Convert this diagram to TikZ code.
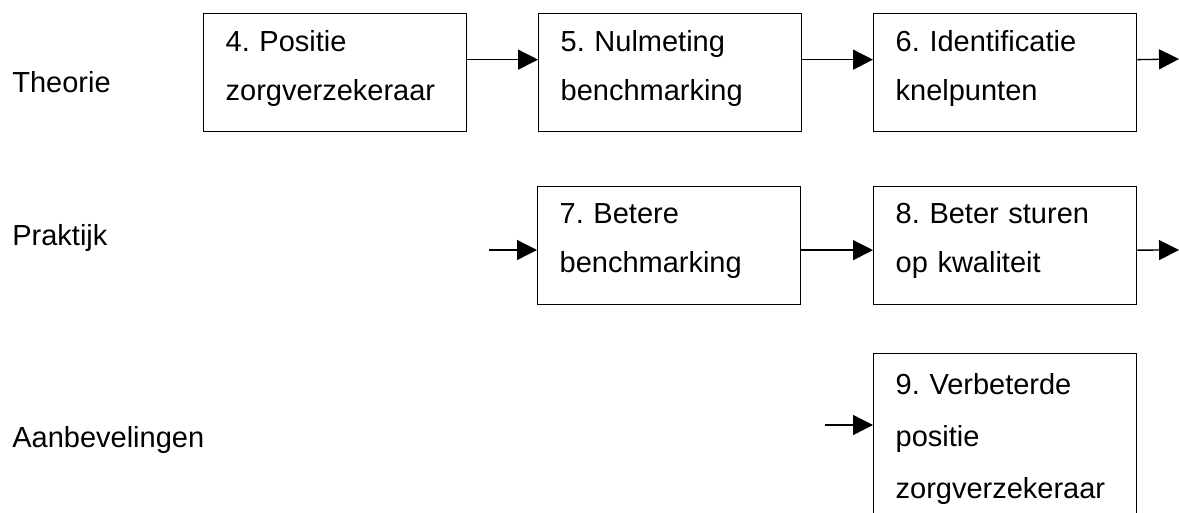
\documentclass[tikz,border=0pt]{standalone}
\usepackage{fontspec}
\setmainfont{Liberation Sans}
\usetikzlibrary{arrows.meta}
\frenchspacing

\begin{document}
\begin{tikzpicture}[x=0.02cm, y=-0.02cm,
  stap/.style={draw, line width=0.75pt, anchor=north west, align=left,
    text width=4.38cm, inner xsep=0.44cm, minimum height=2.36cm,
    font=\fontsize{16.5}{27.9}\selectfont},
  fase/.style={anchor=base west, inner sep=0pt, font=\fontsize{16.5}{20}\selectfont},
  pijl/.style={line width=0.75pt, -{Triangle[length=0.4cm,width=0.4cm]}}]

\clip (0,0) rectangle (1179,513);

% fasen
\node[fase] (theorie) at (12,93) {Theorie};
\node[fase] (praktijk) at (12,245) {Praktijk};
\node[fase] (aanbev) at (12,447) {Aanbevelingen};

% theorie
\node[stap] (s4) at (203,13) {4. Positie\\zorgverzekeraar\strut};
\node[stap] (s5) at (538,13) {5. Nulmeting\\benchmarking\strut};
\node[stap] (s6) at (873,13) {6. Identificatie\\knelpunten\strut};
\coordinate (uit1) at (1179,59);

\draw[pijl] ([yshift=0.26cm]s4.east) -- ([yshift=0.26cm]s5.west);
\draw[pijl] ([yshift=0.26cm]s5.east) -- ([yshift=0.26cm]s6.west);
\draw[pijl] ([yshift=0.26cm]s6.east) -- (uit1);

% praktijk
\coordinate (in2) at (489,250);
\node[stap] (s7) at (537,186) {7. Betere\\benchmarking\strut};
\node[stap] (s8) at (873,186) {8. Beter sturen\\op kwaliteit\strut};
\coordinate (uit2) at (1179,250);

\draw[pijl] (in2) -- (in2 -| s7.west);
\draw[pijl] ([yshift=-0.09cm]s7.east) -- ([yshift=-0.09cm]s8.west);
\draw[pijl] ([yshift=-0.09cm]s8.east) -- (uit2);

% aanbevelingen
\coordinate (in3) at (825,425);
\node[stap, minimum height=3.4cm, font=\fontsize{16.5}{29.6}\selectfont] (s9) at (873,353)
  {9. Verbeterde\\positie\\zorgverzekeraar};

\draw[pijl] (in3) -- (in3 -| s9.west);

\end{tikzpicture}
\end{document}
